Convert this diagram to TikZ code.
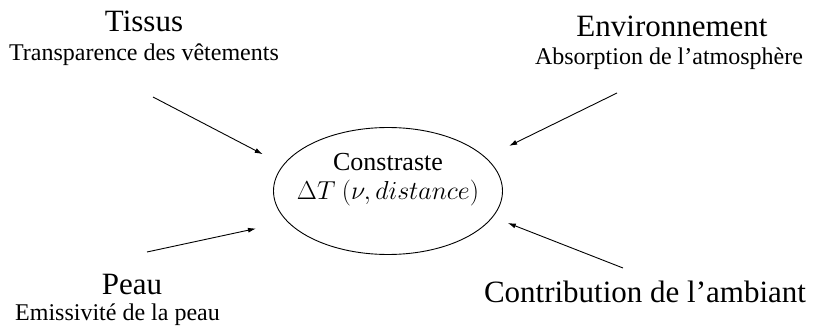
\documentclass[tikz,border=0pt]{standalone}
\usepackage{fix-cm}
\usepackage[no-math]{fontspec}
\setmainfont{Liberation Serif}
\usetikzlibrary{arrows.meta,positioning,shapes.geometric}
\tikzset{
  factor/.style={anchor=base,inner sep=0pt,font=\fontsize{31}{37}\selectfont},
  factorinfo/.style={anchor=base,inner sep=0pt,font=\fontsize{24}{29}\selectfont},
  target/.style={draw,ellipse,line width=0.9pt,minimum width=229pt,minimum height=127pt,inner sep=0pt},
  targettext/.style={align=center,inner sep=0pt,font=\fontsize{26}{29}\selectfont},
  arrow/.style={-{Latex[length=8pt,width=5pt]},line width=0.9pt}
}

\begin{document}
\begin{tikzpicture}[x=1pt,y=-1pt]
\useasboundingbox (0,0) rectangle (814,326);
% central contrast
\node[target] (contraste) at (388,191) {};
\node[targettext] (contrastetxt) at (388,180) {Constraste\\$\Delta T\ (\nu, distance)$};
% contributing factors
\node[factor] (tissus) at (144,32) {Tissus};
\node[factorinfo] (tissusinfo) at (144,61) {Transparence des vêtements};
\node[factor] (env) at (672,37) {Environnement};
\node[factorinfo] (envinfo) at (669,65) {Absorption de l'atmosphère};
\node[factor] (peau) at (132,294) {Peau};
\node[factorinfo] (peauinfo) at (117.5,320) {Emissivité de la peau};
\node[factor] (ambiant) at (645,302) {Contribution de l'ambiant};
\coordinate (tissusfrom) at (153,97);
\coordinate (envfrom) at (617,93);
\coordinate (peaufrom) at (147,252);
\coordinate (ambiantfrom) at (623,268);
\draw[arrow,shorten >=23pt] (tissusfrom) -- (contraste.166.6);
\draw[arrow,shorten >=26pt] (envfrom) -- (contraste.19.8);
\draw[arrow,shorten >=32pt] (peaufrom) -- (contraste.197.5);
\draw[arrow,shorten >=16pt] (ambiantfrom) -- (contraste.346);
\end{tikzpicture}
\end{document}
